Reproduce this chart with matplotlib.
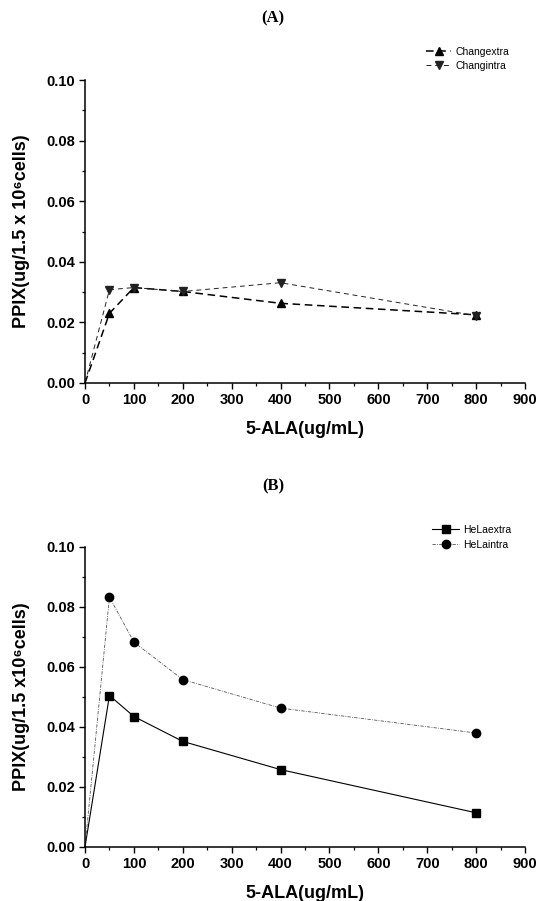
import matplotlib
matplotlib.use("Agg")
import matplotlib.pyplot as plt
from matplotlib.ticker import MultipleLocator

x_conc = [0, 50, 100, 200, 400, 800]
chang_extra = [0.0, 0.023, 0.0315, 0.0302, 0.0263, 0.0225]
chang_intra = [0.0, 0.0308, 0.0315, 0.0302, 0.0331, 0.0222]
hela_extra = [0.0, 0.0505, 0.0435, 0.0352, 0.0258, 0.0114]
hela_intra = [0.0, 0.0833, 0.0683, 0.0558, 0.0463, 0.038]

titles = ["(A)", "(B)"]
ylabels = ["PPIX(ug/1.5 x 10\u2076cells)", "PPIX(ug/1.5 x10\u2076cells)"]
xlabel = "5-ALA(ug/mL)"
xticks = list(range(0, 1000, 100))
yticks = [0.00, 0.02, 0.04, 0.06, 0.08, 0.10]

plt.rcParams['font.family'] = ['Liberation Sans', 'DejaVu Sans']

fig = plt.figure(figsize=(5.47, 9.01), dpi=100)
W, H = 547, 901

def make_ax(top_px, bottom_px):
    left, right = 85, 525
    return fig.add_axes([left / W, (H - bottom_px) / H, (right - left) / W, (bottom_px - top_px) / H])

axA = make_ax(80, 383)
axB = make_ax(547, 847)

for ax, yl in zip([axA, axB], ylabels):
    ax.set_xlim(0, 900)
    ax.set_ylim(0, 0.10)
    ax.set_xticks(xticks)
    ax.set_yticks(yticks)
    ax.xaxis.set_minor_locator(MultipleLocator(50))
    ax.yaxis.set_minor_locator(MultipleLocator(0.01))
    ax.set_yticklabels([f"{v:.2f}" for v in yticks])
    for s in ['top', 'right']:
        ax.spines[s].set_visible(False)
    for s in ['left', 'bottom']:
        ax.spines[s].set_linewidth(1.1)
    ax.tick_params(which='major', direction='out', length=4, width=1.0, labelsize=10.5, pad=3)
    ax.tick_params(which='minor', direction='out', length=2.2, width=0.9)
    for lab in ax.get_xticklabels() + ax.get_yticklabels():
        lab.set_fontweight('bold')
    ax.set_xlabel(xlabel, fontsize=13, fontweight='bold')
    ax.xaxis.set_label_coords(0.5, -0.125)
    ax.set_ylabel(yl, fontsize=13, fontweight='bold')
    ax.yaxis.set_label_coords(-0.125, 0.5)

mk = slice(1, None)

# Panel A
axA.plot(x_conc, chang_extra, color='black', linestyle=(0, (5, 3)), linewidth=1.1,
         marker='^', markersize=6, markevery=mk, label='Changextra', clip_on=False)
axA.plot(x_conc, chang_intra, color='#222222', linestyle=(0, (5, 4)), linewidth=0.7,
         marker='v', markersize=6, markevery=mk, label='Changintra', clip_on=False)
axA.legend(loc='upper left', bbox_to_anchor=(426 / W, 1 - 47 / H), bbox_transform=fig.transFigure,
           frameon=False, fontsize=7.5, handlelength=2.4, handletextpad=0.4,
           labelspacing=0.35, borderpad=0, borderaxespad=0)

# Panel B
axB.plot(x_conc, hela_extra, color='black', linestyle='-', linewidth=0.8,
         marker='s', markersize=5.5, markevery=mk, label='HeLaextra', clip_on=False)
axB.plot(x_conc, hela_intra, color='#555555', linestyle=(0, (4, 1.5, 1, 1.5)), linewidth=0.6,
         marker='o', markersize=6, markerfacecolor='black', markeredgecolor='black',
         markevery=mk, label='HeLaintra', clip_on=False)
axB.legend(loc='upper left', bbox_to_anchor=(432 / W, 1 - 525 / H), bbox_transform=fig.transFigure,
           frameon=False, fontsize=7.5, handlelength=2.6, handletextpad=0.4,
           labelspacing=0.45, borderpad=0, borderaxespad=0)

fig.text(273 / W, 1 - 18 / H, titles[0], ha='center', va='center', fontsize=12,
         fontweight='bold', family='Liberation Serif')
fig.text(273 / W, 1 - 486 / H, titles[1], ha='center', va='center', fontsize=12,
         fontweight='bold', family='Liberation Serif')

fig.savefig('out.png', dpi=100)
